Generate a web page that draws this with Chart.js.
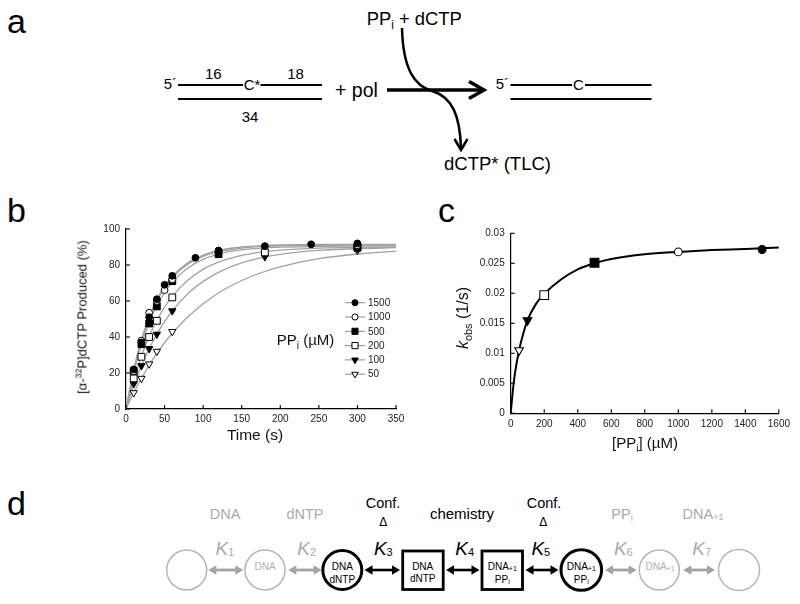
<!DOCTYPE html>
<html><head><meta charset="utf-8">
<script src="https://cdn.jsdelivr.net/npm/chart.js@4.4.0/dist/chart.umd.min.js"></script>
<style>
html,body{margin:0;padding:0;background:#fff;}
#page{position:relative;width:800px;height:604px;overflow:hidden;background:#fff;font-family:"Liberation Sans",Arial,Helvetica,sans-serif;color:#111;}
.abs{position:absolute;white-space:nowrap;}
.ctr{transform:translate(-50%,-50%);}
.rot{transform:translate(-50%,-50%) rotate(-90deg);}
#svg{position:absolute;left:0;top:0;}
sub,sup{font-size:68%;line-height:0;}
</style></head><body><div id="page">
<svg id="svg" width="800" height="604" xmlns="http://www.w3.org/2000/svg" font-family="Liberation Sans, Arial, sans-serif">
 <!-- panel letters -->
 <text x="7" y="33" font-size="34">a</text>
 <text x="7" y="222" font-size="34">b</text>
 <text x="438" y="222" font-size="34">c</text>
 <text x="7" y="515" font-size="34">d</text>
 <!-- panel a -->
 <g fill="#000" stroke="none">
  <text x="177" y="89.3" font-size="15" text-anchor="end">5´</text>
  <text x="213.3" y="79" font-size="15" text-anchor="middle">16</text>
  <text x="252" y="90" font-size="15" text-anchor="middle">C*</text>
  <text x="295.6" y="79" font-size="15" text-anchor="middle">18</text>
  <text x="250" y="121.7" font-size="15" text-anchor="middle">34</text>
  <text x="335" y="97" font-size="19.5">+ pol</text>
  <text x="366.7" y="24.5" font-size="19" font-family="Liberation Sans Narrow, Liberation Sans, Arial" textLength="95" lengthAdjust="spacingAndGlyphs">PP<tspan font-size="12" dy="4">i</tspan><tspan dy="-4"> + dCTP</tspan></text>
  <text x="444" y="170" font-size="19" font-family="Liberation Sans Narrow, Liberation Sans, Arial" textLength="107" lengthAdjust="spacingAndGlyphs">dCTP* (TLC)</text>
  <text x="509" y="89.3" font-size="15" text-anchor="end">5´</text>
  <text x="578.5" y="90" font-size="15" text-anchor="middle">C</text>
 </g>
 <g stroke="#000" fill="none">
  <line x1="178" y1="85" x2="243" y2="85" stroke-width="2"/>
  <line x1="260.5" y1="85" x2="322" y2="85" stroke-width="2"/>
  <line x1="178" y1="99" x2="322" y2="99" stroke-width="2"/>
  <line x1="510.5" y1="85" x2="572" y2="85" stroke-width="2"/>
  <line x1="585" y1="85" x2="651.5" y2="85" stroke-width="2"/>
  <line x1="510.5" y1="99" x2="651.5" y2="99" stroke-width="2"/>
  <line x1="387" y1="90" x2="482" y2="90" stroke-width="3.5"/>
  <polyline points="469,81.5 484,90 469,98.5" stroke-width="3.5"/>
  <path d="M402 28 C403 70 415 86 432 91 C452 97 460 115 461 148" stroke-width="2.5"/>
  <polyline points="454.5,139 461,150 467.5,139" stroke-width="2.5"/>
 </g>
 <!-- panel d -->
 <g id="pd" text-anchor="middle">
  <text x="225" y="518.5" font-size="14.5" fill="#aaa">DNA</text>
  <text x="305" y="518.5" font-size="14.5" fill="#aaa">dNTP</text>
  <text x="383" y="508" font-size="14.5" fill="#000">Conf.</text>
  <text x="383.3" y="525.5" font-size="12" fill="#000">Δ</text>
  <text x="462" y="518.5" font-size="15" fill="#000">chemistry</text>
  <text x="544" y="508" font-size="14.5" fill="#000">Conf.</text>
  <text x="543.3" y="525.5" font-size="12" fill="#000">Δ</text>
  <text x="622" y="518.5" font-size="14.5" fill="#aaa">PP<tspan font-size="9" dy="2">i</tspan></text>
  <text x="703" y="518.5" font-size="14.5" fill="#aaa">DNA<tspan font-size="9" dy="1">+1</tspan></text>

  <text x="225" y="555" font-size="19" fill="#aaa"><tspan font-style="italic">K</tspan><tspan font-size="11" dy="1">1</tspan></text>
  <text x="306.7" y="555" font-size="19" fill="#aaa"><tspan font-style="italic">K</tspan><tspan font-size="11" dy="1">2</tspan></text>
  <text x="383.3" y="555" font-size="19" fill="#000"><tspan font-style="italic">K</tspan><tspan font-size="11" dy="1">3</tspan></text>
  <text x="464.7" y="555" font-size="19" fill="#000"><tspan font-style="italic">K</tspan><tspan font-size="11" dy="1">4</tspan></text>
  <text x="540.8" y="555" font-size="19" fill="#000"><tspan font-style="italic">K</tspan><tspan font-size="11" dy="1">5</tspan></text>
  <text x="623.3" y="555" font-size="19" fill="#aaa"><tspan font-style="italic">K</tspan><tspan font-size="11" dy="1">6</tspan></text>
  <text x="701.7" y="555" font-size="19" fill="#aaa"><tspan font-style="italic">K</tspan><tspan font-size="11" dy="1">7</tspan></text>

  <g fill="none">
   <circle cx="186.7" cy="570" r="20" stroke="#b5b5b5" stroke-width="1.5"/>
   <circle cx="265" cy="570" r="20" stroke="#b5b5b5" stroke-width="1.5"/>
   <circle cx="342.3" cy="570" r="19.5" stroke="#000" stroke-width="3"/>
   <rect x="402.7" y="551" width="40.5" height="38.5" stroke="#000" stroke-width="2.8"/>
   <rect x="482" y="551" width="40.5" height="38.5" stroke="#000" stroke-width="2.8"/>
   <circle cx="581.3" cy="570" r="20.3" stroke="#000" stroke-width="3"/>
   <circle cx="659.3" cy="570" r="20" stroke="#b5b5b5" stroke-width="1.5"/>
   <circle cx="739" cy="570" r="20.5" stroke="#b5b5b5" stroke-width="1.5"/>
  </g>
  <g font-size="10">
   <text x="265" y="570" fill="#b0b0b0">DNA</text>
   <text x="342.3" y="570.3" fill="#000">DNA</text>
   <text x="342.3" y="583" fill="#000">dNTP</text>
   <text x="422.7" y="570.3" fill="#000">DNA</text>
   <text x="422.7" y="582" fill="#000">dNTP</text>
   <text x="502.3" y="570.3" fill="#000">DNA<tspan font-size="7" dy="1">+1</tspan></text>
   <text x="502.3" y="583" fill="#000">PP<tspan font-size="7" dy="1">i</tspan></text>
   <text x="581.3" y="570.3" fill="#000">DNA<tspan font-size="7" dy="1">+1</tspan></text>
   <text x="581.3" y="583" fill="#000">PP<tspan font-size="7" dy="1">i</tspan></text>
   <text x="660" y="570" fill="#b0b0b0">DNA<tspan font-size="7" dy="1">+1</tspan></text>
  </g>
  <g id="arrows"></g>
 </g>
</svg>

<div class="abs" style="left:40px;top:215px;width:370px;height:240px;"><canvas id="cb"></canvas></div>
<div class="abs" style="left:440px;top:215px;width:355px;height:245px;"><canvas id="cc"></canvas></div>

<div class="abs rot" style="left:81.7px;top:316.7px;font-size:13px;">[α-<sup>32</sup>P]dCTP Produced (%)</div>
<div class="abs ctr" style="left:255px;top:435px;font-size:15.5px;">Time (s)</div>
<div class="abs" style="left:276.7px;top:331px;font-size:15px;">PP<sub>i</sub> (µM)</div>
<div class="abs rot" style="left:463px;top:318px;font-size:16px;"><i>k</i><sub>obs</sub> (1/s)</div>
<div class="abs ctr" style="left:645px;top:441.7px;font-size:15px;">[PP<sub>i</sub>] (µM)</div>
</div>

<script>
// ---------- Panel b data ----------
const ppConc = ['1500','1000','500','200','100','50'];
const t1500 = [10,20,30,40,50,60,90,120,180,240,300];
const y1500 = [22,37,51,61,69,74,84,88,90.5,91.5,92];
const t1000 = [10,20,30,40,50,60,120,300];
const y1000 = [21,38,53.5,60,66,72,88,91];
const t500  = [10,20,30,40,60,120,300];
const y500  = [21,36,47.5,57,71,86,90];
const t200  = [10,20,30,40,60,180,300];
const y200  = [17,29,40,49,62,87,89.5];
const t100  = [10,20,30,40,60,180,300];
const y100  = [14,24,33.5,41.5,54.5,84.5,89];
const t50   = [10,20,30,40,60,300];
const y50   = [9,17,25,32,43,88];

const tFit    = [0,10,20,30,40,50,60,80,100,125,150,175,200,250,300,350];
const fit1500 = [0,21.9,38.5,51.2,60.8,68.1,73.7,81.2,85.5,88.5,90.0,90.7,91.1,91.4,91.5,91.5];
const fit1000 = [0,21.5,37.9,50.4,60.0,67.3,72.9,80.4,84.8,87.8,89.4,90.2,90.6,90.9,91.0,91.0];
const fit500  = [0,20.1,35.7,47.9,57.4,64.7,70.4,78.3,83.1,86.6,88.4,89.4,89.9,90.3,90.5,90.5];
const fit200  = [0,16.2,29.4,40.3,49.2,56.6,62.6,71.5,77.6,82.4,85.4,87.2,88.3,89.4,89.8,89.9];
const fit100  = [0,12.9,24.0,33.5,41.6,48.5,54.5,64.0,70.9,77.0,81.2,84.0,85.9,88.1,89.1,89.6];
const fit50   = [0,9.0,17.0,24.3,30.9,36.8,42.1,51.1,58.5,65.8,71.4,75.7,79.0,83.5,86.1,87.7];

const bTicksX = [0,50,100,150,200,250,300,350];
const bTicksY = [0,20,40,60,80,100];

// ---------- Panel c data ----------
const cConc = [50,100,200,500,1000,1500];
const cKobs = [0.0105,0.0155,0.0197,0.0251,0.0269,0.0273];
const cFitX = [0,10,25,50,75,100,150,200,300,400,500,600,800,1000,1200,1400,1600];
const cFitY = [0,0.0030,0.0066,0.0105,0.0133,0.0155,0.0182,0.0199,0.0223,0.0240,0.0250,0.0257,0.0265,0.0269,0.0272,0.0274,0.02765];
const cTicksX = [0,200,400,600,800,1000,1200,1400,1600];
const cTicksY = [0,0.005,0.01,0.015,0.02,0.025,0.03];

// ---------- styles ----------
const markB = [
  {style:'circle', bg:'#000', r:3.4, rot:0},
  {style:'circle', bg:'#fff', r:3.4, rot:0},
  {style:'rect', bg:'#000', r:4.8, rot:0},
  {style:'rect', bg:'#fff', r:4.8, rot:0},
  {style:'triangle', bg:'#000', r:4.2, rot:180},
  {style:'triangle', bg:'#fff', r:4.2, rot:180}
];
const markC = [
  {style:'triangle', bg:'#fff', r:5, rot:180},
  {style:'triangle', bg:'#000', r:5, rot:180},
  {style:'rect', bg:'#fff', r:6.2, rot:0},
  {style:'rect', bg:'#000', r:6.2, rot:0},
  {style:'circle', bg:'#fff', r:3.9, rot:0},
  {style:'circle', bg:'#000', r:3.9, rot:0}
];

const xy = (xs, ys) => xs.map((x,i)=>({x:x, y:ys[i]}));

// ---------- panel d arrows ----------
(function(){
  const g = document.getElementById('arrows');
  const NS = 'http://www.w3.org/2000/svg';
  function arrow(x1,x2,col,w){
    const y=570, hl=8, hw=4.8;
    const l=document.createElementNS(NS,'line');
    l.setAttribute('x1',x1+hl-1);l.setAttribute('x2',x2-hl+1);l.setAttribute('y1',y);l.setAttribute('y2',y);
    l.setAttribute('stroke',col);l.setAttribute('stroke-width',w);g.appendChild(l);
    [[x1,x1+hl],[x2,x2-hl]].forEach(p=>{
      const pg=document.createElementNS(NS,'polygon');
      pg.setAttribute('points',`${p[0]},${y} ${p[1]},${y-hw} ${p[1]},${y+hw}`);
      pg.setAttribute('fill',col);g.appendChild(pg);
    });
  }
  arrow(208.3,243.3,'#a3a3a3',2.8);
  arrow(288.3,321.7,'#a3a3a3',2.8);
  arrow(364.5,400,'#000',2.6);
  arrow(446,479.5,'#000',2.6);
  arrow(525.5,558.5,'#000',2.6);
  arrow(605,636.7,'#a3a3a3',2.8);
  arrow(683.3,715,'#a3a3a3',2.8);
})();

// ---------- plugins ----------
const innerTicks = {
  id:'innerTicks',
  afterDraw(chart){
    const ctx=chart.ctx, xs=chart.scales.x, ys=chart.scales.y;
    ctx.save(); ctx.strokeStyle='#000'; ctx.lineWidth=1.1;
    xs.ticks.forEach(t=>{const px=xs.getPixelForValue(t.value);ctx.beginPath();ctx.moveTo(px,ys.bottom);ctx.lineTo(px,ys.bottom-4);ctx.stroke();});
    ys.ticks.forEach(t=>{const py=ys.getPixelForValue(t.value);ctx.beginPath();ctx.moveTo(xs.left,py);ctx.lineTo(xs.left+4,py);ctx.stroke();});
    ctx.restore();
  }
};
function drawMarker(ctx,s,x,y){
  ctx.fillStyle=s.bg; ctx.strokeStyle='#000'; ctx.lineWidth=1;
  Chart.helpers.drawPoint(ctx,{pointStyle:s.style,radius:s.r,rotation:s.rot,borderWidth:1},x,y);
}
const ppLegend = {
  id:'ppLegend',
  afterDraw(chart){
    const ctx=chart.ctx, ca=chart.chartArea;
    const x0=ca.left+229, y0=ca.top+73.7, dy=14.3;
    ctx.save();
    ppConc.forEach((c,i)=>{
      const y=y0+i*dy;
      ctx.strokeStyle='#8a8a8a'; ctx.lineWidth=1;
      ctx.beginPath(); ctx.moveTo(x0-10,y); ctx.lineTo(x0+10,y); ctx.stroke();
      drawMarker(ctx,{...markB[i], r: markB[i].r*0.9},x0,y);
      ctx.fillStyle='#222'; ctx.font='10px "Liberation Sans", Arial, sans-serif';
      ctx.textAlign='left'; ctx.textBaseline='middle';
      ctx.fillText(c,x0+13,y+0.5);
    });
    ctx.restore();
  }
};

function axis(min,max,ticksArr,fmt,fitFn,pad){
  return {
    type:'linear', min:min, max:max,
    afterBuildTicks:s=>{s.ticks=ticksArr.map(v=>({value:v}));},
    afterFit:fitFn,
    grid:{display:false, drawTicks:false},
    border:{display:true,color:'#000',width:1.2},
    ticks:{padding:pad,color:'#222',font:{family:'"Liberation Sans", Arial, sans-serif',size:10},callback:fmt,autoSkip:false,maxRotation:0}
  };
}
const fmtInt = v=>String(v);
const fmtDec = v=>String(+Number(v).toFixed(4));

// ---------- chart b ----------
const bSeries = [[t1500,y1500],[t1000,y1000],[t500,y500],[t200,y200],[t100,y100],[t50,y50]];
const bFits = [fit1500,fit1000,fit500,fit200,fit100,fit50];
const bDatasets = [];
bSeries.forEach((s,i)=>{
  const m=markB[i];
  bDatasets.push({label:ppConc[i], data:xy(s[0],s[1]), showLine:false,
    pointStyle:m.style, pointRadius:m.r, pointRotation:m.rot, pointBackgroundColor:m.bg,
    pointBorderColor:'#000', pointBorderWidth:1});
});
bFits.forEach((f,i)=>{
  bDatasets.push({label:'fit '+ppConc[i], data:xy(tFit,f), showLine:true, pointRadius:0,
    borderColor:'#a2a2a2', borderWidth:1.3, cubicInterpolationMode:'monotone', fill:false});
});
new Chart(document.getElementById('cb'),{
  type:'scatter',
  data:{datasets:bDatasets},
  options:{
    responsive:true, maintainAspectRatio:false, animation:false,
    layout:{padding:{top:14,right:14,left:0,bottom:0}},
    plugins:{legend:{display:false},tooltip:{enabled:false}},
    scales:{
      x:axis(0,350,bTicksX,fmtInt,s=>{s.height=46;},4),
      y:axis(0,100,bTicksY,fmtInt,s=>{s.width=86;},6)
    }
  },
  plugins:[innerTicks,ppLegend]
});

// ---------- chart c ----------
const cDatasets = cConc.map((c,i)=>{
  const m=markC[i];
  return {label:String(c), data:[{x:c,y:cKobs[i]}], showLine:false,
    pointStyle:m.style, pointRadius:m.r, pointRotation:m.rot, pointBackgroundColor:m.bg,
    pointBorderColor:'#000', pointBorderWidth:1.1};
});
cDatasets.push({label:'fit', data:xy(cFitX,cFitY), showLine:true, pointRadius:0,
  borderColor:'#000', borderWidth:2, cubicInterpolationMode:'monotone', fill:false});
new Chart(document.getElementById('cc'),{
  type:'scatter',
  data:{datasets:cDatasets},
  options:{
    responsive:true, maintainAspectRatio:false, animation:false,
    layout:{padding:{top:18.3,right:15,left:0,bottom:0}},
    plugins:{legend:{display:false},tooltip:{enabled:false}},
    scales:{
      x:axis(0,1600,cTicksX,fmtInt,s=>{s.height=46.7;},5),
      y:axis(0,0.03,cTicksY,fmtDec,s=>{s.width=70.7;},6)
    }
  },
  plugins:[innerTicks]
});
</script>
</body></html>
